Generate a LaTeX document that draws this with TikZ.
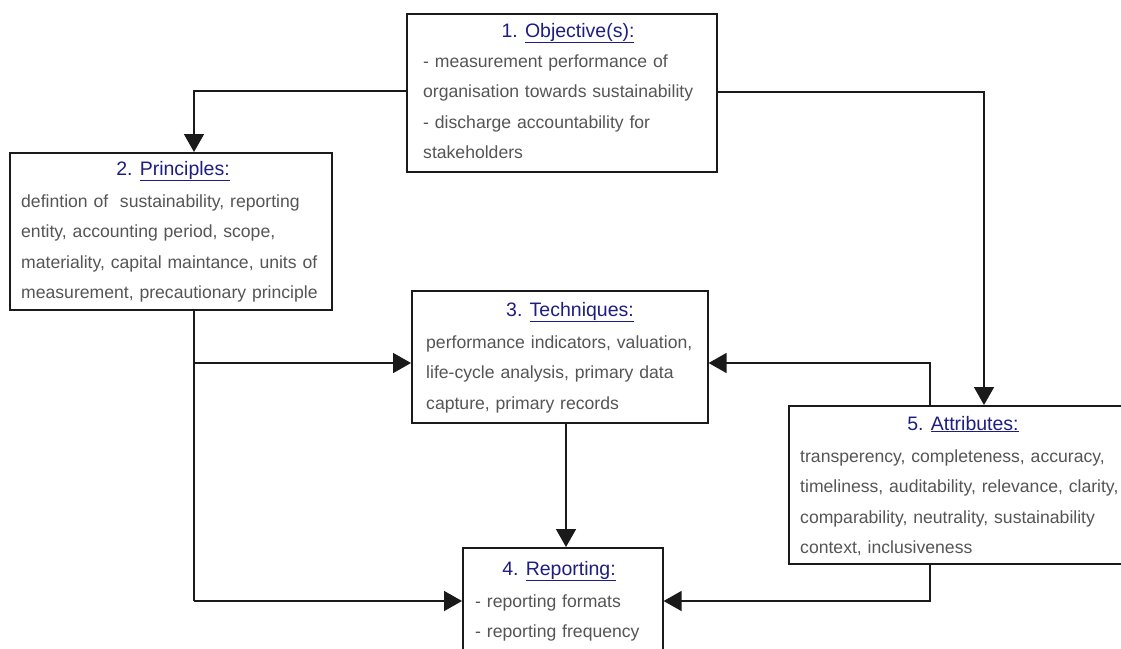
\documentclass[tikz,border=0pt]{standalone}
\usepackage{fontspec}
\setmainfont{Liberation Sans}
\usetikzlibrary{arrows.meta,calc}
\definecolor{heading}{HTML}{1E1E82}
\definecolor{bodytext}{HTML}{555555}
\definecolor{frame}{HTML}{1A1A1A}

\tikzset{
  panel/.style={draw=frame, line width=1.6pt, fill=white, anchor=north west, inner sep=0pt},
  headtxt/.style={anchor=base, inner sep=0pt, text=heading, font=\fontsize{19.5}{24}\selectfont},
  bodytxt/.style={anchor=base west, inner sep=0pt, text=bodytext, text width=340pt, align=left,
    font=\fontsize{17.6}{30.5}\selectfont},
  flow/.style={draw=frame, line width=1.6pt, -{Triangle[length=18pt,width=20pt]}},
  link/.style={draw=frame, line width=1.6pt},
}
\newcommand{\headline}[2]{#1 \underline{#2}}

\begin{document}
\begin{tikzpicture}[x=1pt, y=-1pt]
  \useasboundingbox[fill=white] (0,0) rectangle (1121,648);

  % the five panels
  \node[panel, minimum width=310pt, minimum height=158pt] (obj) at (406,13) {};
  \node[panel, minimum width=322pt, minimum height=157pt] (pri) at (9,152) {};
  \node[panel, minimum width=296pt, minimum height=132pt] (tec) at (411,290) {};
  \node[panel, minimum width=200pt, minimum height=140pt] (rep) at (462,547) {};
  \node[panel, minimum width=360pt, minimum height=158pt] (att) at (788,405) {};

  % headings
  \node[headtxt] (obj-h) at (568,37) {\headline{1.}{Objective(s):}};
  \node[headtxt] (pri-h) at (173,175) {\headline{2.}{Principles:}};
  \node[headtxt] (tec-h) at (570,316) {\headline{3.}{Techniques:}};
  \node[headtxt] (rep-h) at (559,575) {\headline{4.}{Reporting:}};
  \node[headtxt] (att-h) at (963,430) {\headline{5.}{Attributes:}};

  % panel contents
  \node[bodytxt] (obj-b) at (423,67) {- measurement performance of\\organisation towards sustainability\\- discharge accountability for\\stakeholders};
  \node[bodytxt] (pri-b) at (21,207) {defintion of\ \ sustainability, reporting\\entity, accounting period, scope,\\materiality, capital maintance, units of\\measurement, precautionary principle};
  \node[bodytxt] (tec-b) at (426,348) {performance indicators, valuation,\\life-cycle analysis, primary data\\capture, primary records};
  \node[bodytxt] (rep-b) at (475,607) {- reporting formats\\- reporting frequency};
  \node[bodytxt] (att-b) at (800,462) {transperency, completeness, accuracy,\\timeliness, auditability, relevance, clarity,\\comparability, neutrality, sustainability\\context, inclusiveness};

  % attachment points along the panel edges
  \coordinate (pri-top) at ([xshift=185pt]pri.north west);
  \coordinate (pri-bot) at ([xshift=185pt]pri.south west);
  \coordinate (att-top) at ([xshift=196pt]att.north west);
  \coordinate (att-up)  at ([xshift=142pt]att.north west);
  \coordinate (att-bot) at ([xshift=142pt]att.south west);
  \coordinate (tec-in-l) at ([yshift=-73pt]tec.north west);
  \coordinate (tec-in-r) at ([yshift=-73pt]tec.north east);
  \coordinate (tec-bot) at ([xshift=155pt]tec.south west);
  \coordinate (rep-in-l) at ([yshift=-54pt]rep.north west);
  \coordinate (rep-in-r) at ([yshift=-54pt]rep.north east);
  \coordinate (rep-top) at ([xshift=104pt]rep.north west);

  % connectors
  \draw[flow] ([yshift=-78pt]obj.north west) -| (pri-top);
  \draw[flow] ([yshift=-79pt]obj.north east) -| (att-top);
  \draw[link] (pri-bot) |- (rep-in-l -| pri-bot) coordinate (pri-corner);
  \draw[flow] (pri-corner) -- (rep-in-l);
  \draw[flow] (tec-in-l -| pri-bot) -- (tec-in-l);
  \draw[flow] (att-up) |- (tec-in-r);
  \draw[flow] (att-bot) |- (rep-in-r);
  \draw[flow] (tec-bot) -- (tec-bot |- rep-top);
\end{tikzpicture}
\end{document}
